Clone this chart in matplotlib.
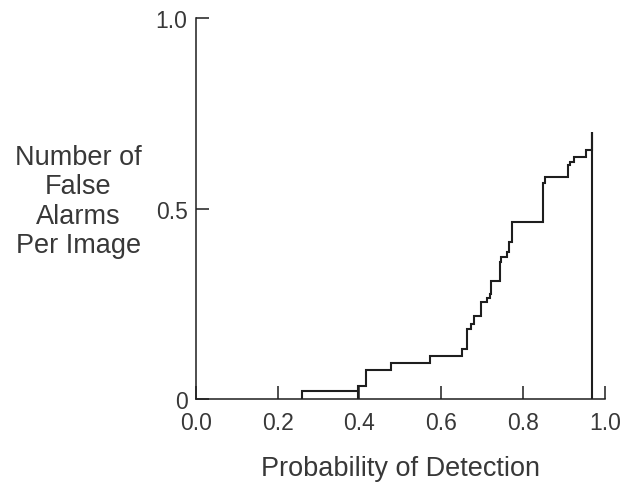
import numpy as np
import matplotlib
matplotlib.use("Agg")
import matplotlib.pyplot as plt

plt.rcParams['font.family'] = ['Liberation Sans', 'DejaVu Sans']

# step points: (probability of detection, false alarms per image)
pd_steps = [0.260, 0.397, 0.417, 0.478, 0.572, 0.650, 0.662, 0.674, 0.680,
            0.698, 0.712, 0.719, 0.723, 0.743, 0.747, 0.760, 0.766, 0.772,
            0.848, 0.853, 0.910, 0.914, 0.924, 0.954, 0.969]
fa_levels = [0.021, 0.035, 0.077, 0.094, 0.112, 0.132, 0.184, 0.197, 0.219,
             0.254, 0.265, 0.276, 0.311, 0.360, 0.373, 0.386, 0.412, 0.465,
             0.566, 0.583, 0.614, 0.621, 0.636, 0.654, 0.702]

x_ticks = [0.0, 0.2, 0.4, 0.6, 0.8, 1.0]
x_ticklabels = ['0.0', '0.2', '0.4', '0.6', '0.8', '1.0']
y_ticks = [0, 0.5, 1.0]
y_ticklabels = ['0', '0.5', '1.0']

ink = '#1e1e1e'
txt = '#383838'

# build the staircase path
xs = [pd_steps[0], pd_steps[0]]
ys = [0, fa_levels[0]]
for i in range(1, len(pd_steps)):
    xs += [pd_steps[i], pd_steps[i]]
    ys += [fa_levels[i - 1], fa_levels[i]]
xs.append(pd_steps[-1])
ys.append(0)

fig = plt.figure(figsize=(6.26, 4.89), dpi=100)
ax = fig.add_axes([0.313, 0.182, 0.653, 0.779])

ax.plot(xs, ys, color=ink, lw=1.5, solid_joinstyle='miter')
ax.vlines(pd_steps[1], 0, fa_levels[0], color=ink, lw=1.5)

ax.set_xlim(0, 1.0)
ax.set_ylim(0, 1.0)
ax.spines['top'].set_visible(False)
ax.spines['right'].set_visible(False)
for s in ['left', 'bottom']:
    ax.spines[s].set_linewidth(1.1)
    ax.spines[s].set_color(ink)

ax.set_xticks(x_ticks)
ax.set_xticklabels(x_ticklabels)
ax.set_yticks(y_ticks)
ax.set_yticklabels(y_ticklabels)
ax.tick_params(direction='in', length=9.5, width=1.1, color=ink,
               labelsize=16.5, labelcolor=txt)
ax.tick_params(axis='x', pad=8.5)
ax.tick_params(axis='y', pad=6)

ax.set_xlabel('Probability of Detection', fontsize=19.5, color=txt, labelpad=15)

fig.text(0.125, 0.587, 'Number of\nFalse\nAlarms\nPer Image', ha='center', va='center',
         fontsize=19.5, color=txt, linespacing=1.17)

fig.savefig('out.png', dpi=100)
